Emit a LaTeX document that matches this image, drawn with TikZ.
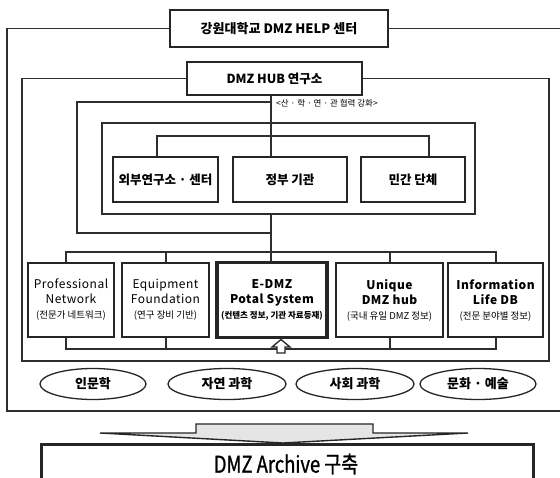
\documentclass[tikz,border=0pt]{standalone}
\usepackage{fontspec}
\setmainfont{Noto Sans CJK KR}
\usetikzlibrary{shapes.geometric}
\newcommand\dzLow{\fontsize{12}{15}\selectfont\addfontfeatures{LetterSpace=4}}
\newcommand\dzSmall{\fontsize{9.5}{15}\selectfont}
\begin{document}
\begin{tikzpicture}[x=1pt,y=-1pt,
  ln/.style={draw=black!82, line width=1.5pt},
  box/.style={draw=black!85, line width=1.7pt, fill=white, inner sep=0pt, align=center},
  lowbox/.style={box, font=\fontsize{12}{15}\selectfont},
  thickbox/.style={lowbox, line width=3.4pt},
  orgtxt/.style={font=\fontsize{12.5}{14}\selectfont\bfseries},
  smalltxt/.style={font=\fontsize{8.5}{10}\selectfont},
  ell/.style={ellipse, draw=black!85, line width=1.3pt, fill=white, inner sep=0pt, font=\fontsize{13}{14}\selectfont\bfseries}
]
\useasboundingbox (0,0) rectangle (560,477);
\clip (0,0) rectangle (560,477);
\fill[white] (0,0) rectangle (560,477);

% coordinates
\coordinate (vx) at (271,0);

% title and outer frame
\node[box, line width=2pt, minimum width=218pt, minimum height=37pt, font=\fontsize{13}{14}\selectfont\bfseries] (title) at (279,28.5) {강원대학교 DMZ HELP 센터};
\draw[ln] (title.west) -- (7,28.5) -- (7,411) -- (570,411);
\draw[ln] (title.east) -- (570,28.5);

% HUB box and frame
\node[box, line width=2pt, minimum width=175pt, minimum height=33pt, font=\fontsize{12.5}{14}\selectfont\bfseries] (hub) at (274.5,78.5) {DMZ HUB 연구소};
\draw[ln] (hub.west) -- (22,78.5) -- (22,361) -- (549,361) -- (549,78.5) -- (hub.east);

% left bracket
\coordinate (bt) at (271,102);
\coordinate (bb) at (271,233);
\draw[ln] (bt) -- (77,102) -- (77,233) -- (bb);
\node[anchor=west, smalltxt, inner sep=0pt] (coop) at (276,103.5) {<산 · 학 · 연 · 관 협력 강화>};

% inner frame
\draw[ln] (102,123) rectangle (475,214);
\coordinate (ifb) at (271,214);

% inner boxes
\node[box, orgtxt, minimum width=105pt, minimum height=45pt] (ext) at (165.5,179.5) {외부연구소 · 센터};
\node[box, orgtxt, minimum width=114pt, minimum height=45pt] (gov) at (290,179.5) {정부 기관};
\node[box, orgtxt, minimum width=104pt, minimum height=45pt] (pri) at (413,179.5) {민간 단체};
\draw[ln] (ext.north -| 157,0) -- (157,136) -- (429,136) -- (pri.north -| 429,0);

% main vertical
\draw[ln] (hub.south -| vx) -- (gov.north -| vx);

% bottom boxes
\node[lowbox, minimum width=86pt, minimum height=74pt] (prof) at (71,300)
  {{\dzLow Professional}\\{\dzLow Network}\\{\dzSmall (전문가 네트워크)}};
\node[lowbox, minimum width=87pt, minimum height=74pt] (equip) at (165.5,300)
  {{\dzLow Equipment}\\{\dzLow Foundation}\\{\dzSmall (연구 장비 기반)}};
\node[thickbox, minimum width=110pt, minimum height=75pt] (edmz) at (272,300)
  {{\dzLow\bfseries E-DMZ}\\{\dzLow\bfseries Potal System}\\{\fontsize{8.5}{15}\selectfont\bfseries (컨텐츠 정보, 기관 자료등재)}};
\node[lowbox, minimum width=107pt, minimum height=74pt] (uniq) at (389.5,300)
  {{\dzLow\bfseries Unique}\\{\dzLow\bfseries DMZ hub}\\{\dzSmall (국내 유일 DMZ 정보)}};
\node[lowbox, minimum width=95pt, minimum height=74pt] (info) at (495.5,300)
  {{\dzLow\bfseries Information}\\{\dzLow\bfseries Life DB}\\{\dzSmall (전문 분야별 정보)}};

% vertical from inner frame to E-DMZ
\draw[ln] (ifb) -- (edmz.north -| vx);

% top bar of bottom row
\draw[ln] (prof.north -| 66,0) -- (66,252) -- (496,252) -- (info.north -| 496,0);
\draw[ln] (equip.north -| 166,0) -- (166,252);
\draw[ln] (uniq.north -| 390,0) -- (390,252);

% bottom bracket
\draw[ln] (prof.south -| 66,0) -- (66,349) -- (496,349) -- (info.south -| 496,0);
\draw[ln] (equip.south -| 166,0) -- (166,349);
\draw[ln] (uniq.south -| 390,0) -- (390,349);

% hollow up arrow
\draw[draw=black!85, line width=1.3pt, fill=white] (277,353) -- (277,347) -- (272,347) -- (281,339.5) -- (290,347) -- (285,347) -- (285,353) -- cycle;

% ellipses
\node[ell, minimum width=106pt, minimum height=31pt] (hum) at (93,384) {인문학};
\node[ell, minimum width=118pt, minimum height=31pt] (nat) at (227,384) {자연 과학};
\node[ell, minimum width=118pt, minimum height=31pt] (soc) at (355,384) {사회 과학};
\node[ell, minimum width=116pt, minimum height=31pt] (art) at (478,384) {문화 · 예술};

% big down arrow
\draw[draw=black!85, line width=1.4pt, fill=black!10, line join=miter] (196,424) -- (373,424) -- (373,433) -- (468,433) -- (283,443) -- (100,433) -- (196,433) -- cycle;

% archive box
\node[box, line width=3pt, minimum width=492pt, minimum height=50pt, anchor=north west] (arch) at (40,443) {};
\node[font=\fontsize{23}{26}\selectfont\addfontfeatures{FakeBold=1.2}, inner sep=0pt] (archtxt) at (286,464) {\scalebox{0.8}[1]{DMZ Archive 구축}};
\end{tikzpicture}
\end{document}
